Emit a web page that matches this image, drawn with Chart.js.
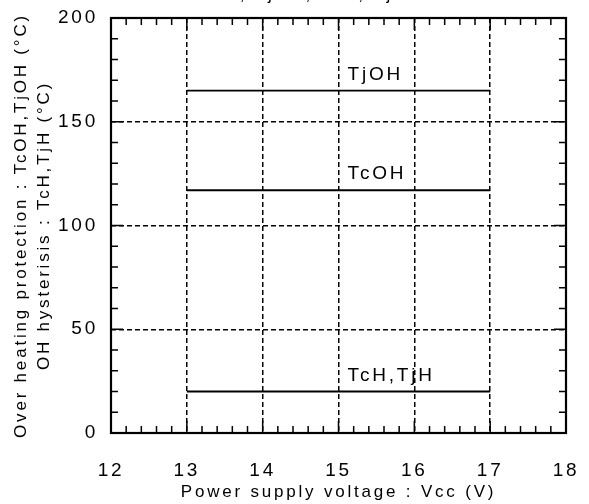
<!DOCTYPE html>
<html>
<head>
<meta charset="utf-8">
<script src="https://cdn.jsdelivr.net/npm/chart.js@4.4.0/dist/chart.umd.min.js"></script>
<style>
  html, body { margin: 0; padding: 0; background: #fff; }
  .wrap { width: 589px; height: 504px; }
</style>
</head>
<body>
<div class="wrap"><canvas id="myChart"></canvas></div>
<script>
// values
const voltage = [13, 17];
const tjOH = [165, 165];
const tcOH = [117, 117];
const tcH = [20, 20];

// in-plot line names, placed in data units
const lineNames = ["TjOH", "TcOH", "TcH,TjH"];
const nameX = [15.12, 15.12, 15.12];
const nameY = [165, 117, 20];

const xTicks = [12, 13, 14, 15, 16, 17, 18];
const yTicks = [0, 50, 100, 150, 200];
const xMinor = 0.2;
const yMinor = 10;
const topText = "TcOH, TjOH, TcH, TjH";

const family = "'Liberation Sans', Arial, sans-serif";
const spacing = "2.8px";

const toPoints = ys => voltage.map((v, i) => ({ x: v, y: ys[i] }));
const hideEdge = c => (c.tick && (c.tick.value === c.scale.min || c.tick.value === c.scale.max)) ? "rgba(0,0,0,0)" : "#000";

const frame = {
  id: "frame",
  beforeUpdate(chart) { chart.ctx.letterSpacing = spacing; },
  beforeDraw(chart) { chart.ctx.letterSpacing = spacing; },
  afterDatasetsDraw(chart) {
    const { ctx, chartArea: a, scales: { x, y } } = chart;
    ctx.save();
    ctx.strokeStyle = "#000";
    ctx.lineWidth = 1.5;
    ctx.beginPath();
    // inward ticks on all four sides
    const nx = Math.round((x.max - x.min) / xMinor);
    for (let n = 0; n <= nx; n++) {
      const v = x.min + n * xMinor;
      const len = n % 5 === 0 ? 12 : 7;
      const px = x.getPixelForValue(v);
      ctx.moveTo(px, a.bottom); ctx.lineTo(px, a.bottom - len);
      ctx.moveTo(px, a.top); ctx.lineTo(px, a.top + len);
    }
    const ny = Math.round((y.max - y.min) / yMinor);
    for (let n = 0; n <= ny; n++) {
      const v = y.min + n * yMinor;
      const len = n % 5 === 0 ? 12 : 7;
      const py = y.getPixelForValue(v);
      ctx.moveTo(a.left, py); ctx.lineTo(a.left + len, py);
      ctx.moveTo(a.right, py); ctx.lineTo(a.right - len, py);
    }
    ctx.stroke();
    ctx.lineWidth = 2.2;
    ctx.strokeRect(a.left, a.top, a.width, a.height);
    ctx.restore();
  },
  afterDraw(chart) {
    const { ctx, scales: { x, y } } = chart;
    ctx.save();
    ctx.letterSpacing = spacing;
    ctx.fillStyle = "#000";
    ctx.textAlign = "left";
    ctx.textBaseline = "alphabetic";
    ctx.font = "19px " + family;
    lineNames.forEach((t, i) => {
      ctx.fillText(t, x.getPixelForValue(nameX[i]), y.getPixelForValue(nameY[i]) - 11);
    });
    // title cut off at the top edge, only descenders show
    ctx.font = "17px " + family;
    ctx.fillText(topText, 186, 0);
    ctx.restore();
  }
};

const ctx = document.getElementById("myChart").getContext("2d");
const myChart = new Chart(ctx, {
  type: "scatter",
  data: {
    datasets: [
      { label: "TjOH", data: toPoints(tjOH) },
      { label: "TcOH", data: toPoints(tcOH) },
      { label: "TcH,TjH", data: toPoints(tcH) }
    ].map(d => Object.assign(d, {
      showLine: true,
      borderColor: "#000",
      borderWidth: 1.8,
      pointRadius: 0
    }))
  },
  options: {
    responsive: true,
    maintainAspectRatio: false,
    animation: false,
    layout: { padding: { top: 18, right: 23, left: 0, bottom: 0 } },
    plugins: {
      legend: { display: false },
      tooltip: { enabled: false }
    },
    scales: {
      x: {
        type: "linear",
        min: 12,
        max: 18,
        afterBuildTicks: s => { s.ticks = xTicks.map(v => ({ value: v })); },
        afterFit: s => { s.height = 71; s.paddingLeft = 0; s.paddingRight = 0; },
        grid: { color: hideEdge, lineWidth: 1.5, drawTicks: false },
        border: { display: false, dash: [5, 3] },
        ticks: {
          color: "#000",
          padding: 26,
          maxRotation: 0,
          font: { family: family, size: 19 }
        },
        title: {
          display: true,
          text: "Power supply voltage : Vcc (V)",
          color: "#000",
          font: { family: family, size: 17 },
          padding: { top: 0, bottom: 1 }
        }
      },
      y: {
        min: 0,
        max: 200,
        afterBuildTicks: s => { s.ticks = yTicks.map(v => ({ value: v })); },
        afterFit: s => { s.width = 111; s.paddingTop = 0; s.paddingBottom = 0; },
        grid: { color: hideEdge, lineWidth: 1.5, drawTicks: false },
        border: { display: false, dash: [5, 3] },
        ticks: {
          color: "#000",
          padding: 13,
          font: { family: family, size: 19 }
        },
        title: {
          display: true,
          text: ["Over heating protection : TcOH,TjOH (°C)", "OH hysterisis : TcH,TjH (°C)"],
          color: "#000",
          font: { family: family, size: 17, lineHeight: 1.35 },
          padding: { top: 10, bottom: 0 }
        }
      }
    }
  },
  plugins: [frame]
});
</script>
</body>
</html>
